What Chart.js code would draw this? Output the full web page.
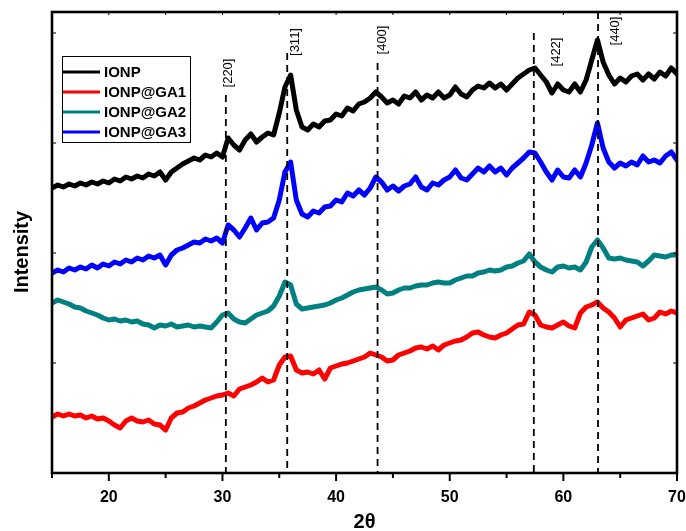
<!DOCTYPE html>
<html>
<head>
<meta charset="utf-8">
<script src="https://cdn.jsdelivr.net/npm/chart.js@4/dist/chart.umd.min.js"></script>
<style>
  html, body { margin: 0; padding: 0; background: #fff; }
  #wrap { width: 686px; height: 531px; position: relative; }
</style>
</head>
<body>
<div id="wrap"><canvas id="xrd"></canvas></div>
<script>
// 2-theta sampling (15 -> 70, step 0.5)
const twoTheta = Array.from({ length: 111 }, (_, i) => 15 + i * 0.5);

// intensities (a.u.)
const ionp = [285,288,286,289,287,290,288,291,289,292,290,294,292,296,294,297,295,299,297,301,
  293,301,305,309,312,315,313,318,316,320,316,335,328,323,333,339,331,336,340,338,
  360,386,398,363,346,343,349,346,352,353,359,357,365,362,369,371,375,381,376,370,
  373,369,377,375,381,373,378,375,381,375,378,386,379,376,383,387,385,390,385,389,
  383,389,395,399,403,405,398,391,380,389,383,381,389,381,393,413,433,411,398,389,
  395,391,397,399,393,399,394,401,397,405,399];
const ga1 = [56,59,57,59,57,58,55,57,54,55,52,48,45,52,55,52,51,53,49,48,
  43,55,60,61,65,67,70,73,75,77,78,80,77,84,86,88,91,95,91,93,
  108,116,117,103,100,101,99,103,94,105,107,109,110,112,114,116,120,118,116,112,
  113,118,120,122,125,126,124,127,123,128,130,132,133,136,140,141,138,136,135,138,
  140,144,148,149,161,158,148,146,145,148,151,147,145,160,166,168,171,165,161,155,
  146,153,155,157,159,153,155,161,159,162,160];
const ga2 = [170,173,171,169,166,165,162,160,158,155,153,154,152,153,151,152,149,148,145,148,
  147,149,146,147,148,146,147,146,145,151,158,160,154,151,150,154,158,160,162,167,
  177,191,188,169,164,165,166,167,168,170,173,175,178,181,183,184,185,186,183,179,
  180,183,185,185,187,188,188,190,191,190,190,193,195,197,197,200,201,203,202,203,
  206,207,210,212,219,211,206,203,201,206,207,205,206,203,211,226,233,225,215,214,
  215,213,212,211,207,212,218,217,216,218,218];
const ga3 = [200,203,201,205,203,206,204,208,205,209,207,211,209,213,211,215,213,217,215,218,
  208,218,223,225,228,231,230,234,232,235,230,248,243,236,245,255,243,250,251,255,
  273,301,311,273,259,256,262,260,266,267,273,271,280,277,283,278,285,296,291,283,
  287,282,287,289,296,286,283,290,288,293,296,303,295,293,299,305,301,307,301,305,
  298,305,310,315,321,320,311,301,293,303,296,295,303,296,310,328,350,325,311,305,
  310,307,311,308,317,311,313,310,317,321,313];

const xTicks = [20, 30, 40, 50, 60, 70];
const xMinor = [15, 25, 35, 45, 55, 65];
const yTicks = [110, 220, 330, 440];

// reflections
const peakNames = ['[220]', '[311]', '[400]', '[422]', '[440]'];
const peakPos = [30.3, 35.7, 43.65, 57.4, 63.05];
const peakTop = [378, 420, 410, 440, 461];
const labelX = [30.5, 36.45, 44.1, 59.35, 64.6];
const labelY = [400, 431, 433, 421, 442];

const FONT = '"Liberation Sans", Arial, sans-serif';
const pts = vals => vals.map((v, i) => ({ x: twoTheta[i], y: v }));

const decor = {
  id: 'decor',
  afterDatasetsDraw(chart) {
    const { ctx, chartArea: a, scales: { x, y } } = chart;
    ctx.save();

    // dashed reference lines
    ctx.strokeStyle = '#000';
    ctx.lineWidth = 1.8;
    ctx.setLineDash([7, 5]);
    peakPos.forEach((p, i) => {
      const px = x.getPixelForValue(p);
      ctx.beginPath();
      ctx.moveTo(px, y.getPixelForValue(peakTop[i]));
      ctx.lineTo(px, a.bottom);
      ctx.stroke();
    });
    ctx.setLineDash([]);

    // reflection labels
    ctx.fillStyle = '#000';
    ctx.font = '13px ' + FONT;
    ctx.textAlign = 'center';
    ctx.textBaseline = 'middle';
    peakNames.forEach((t, i) => {
      ctx.save();
      ctx.translate(x.getPixelForValue(labelX[i]), y.getPixelForValue(labelY[i]));
      ctx.rotate(-Math.PI / 2);
      ctx.fillText(t, 0, 0);
      ctx.restore();
    });

    // frame
    ctx.lineWidth = 2.6;
    ctx.strokeRect(a.left, a.top, a.right - a.left, a.bottom - a.top);

    // tick marks
    ctx.lineWidth = 2;
    xTicks.forEach(v => {
      const px = x.getPixelForValue(v);
      ctx.beginPath(); ctx.moveTo(px, a.bottom); ctx.lineTo(px, a.bottom + 8); ctx.stroke();
    });
    xMinor.forEach(v => {
      const px = x.getPixelForValue(v);
      ctx.beginPath(); ctx.moveTo(px, a.bottom); ctx.lineTo(px, a.bottom + 5); ctx.stroke();
    });
    ctx.lineWidth = 1;
    xTicks.concat(xMinor).forEach(v => {
      const px = x.getPixelForValue(v);
      ctx.beginPath(); ctx.moveTo(px, a.top); ctx.lineTo(px, a.top + 3); ctx.stroke();
    });
    yTicks.forEach(v => {
      const py = y.getPixelForValue(v);
      ctx.beginPath(); ctx.moveTo(a.left, py); ctx.lineTo(a.left + 4, py); ctx.stroke();
      ctx.beginPath(); ctx.moveTo(a.right, py); ctx.lineTo(a.right - 4, py); ctx.stroke();
    });

    // legend
    const lx = 62, ly = 56, lw = 128, lh = 86;
    ctx.fillStyle = '#fff';
    ctx.fillRect(lx, ly, lw, lh);
    ctx.lineWidth = 1;
    ctx.strokeStyle = '#000';
    ctx.strokeRect(lx + 0.5, ly + 0.5, lw, lh);
    ctx.font = 'bold 15px ' + FONT;
    ctx.textAlign = 'left';
    chart.data.datasets.forEach((ds, i) => {
      const ry = 72 + i * 20;
      ctx.strokeStyle = ds.borderColor;
      ctx.lineWidth = 3;
      ctx.beginPath(); ctx.moveTo(lx + 1, ry); ctx.lineTo(lx + 38, ry); ctx.stroke();
      ctx.fillStyle = '#000';
      ctx.fillText(ds.label, lx + 42, ry + 1);
    });

    // axis titles
    ctx.font = 'bold 20px ' + FONT;
    ctx.textAlign = 'center';
    ctx.fillText('2θ', (a.left + a.right) / 2, 522);
    ctx.save();
    ctx.translate(22, 252);
    ctx.rotate(-Math.PI / 2);
    ctx.fillText('Intensity', 0, 0);
    ctx.restore();

    ctx.restore();
  }
};

const lineDs = (label, vals, color) => ({
  label, data: pts(vals), borderColor: color, backgroundColor: color,
  borderWidth: 5, borderJoinStyle: 'round', borderCapStyle: 'round',
  pointRadius: 0, tension: 0, fill: false
});

new Chart(document.getElementById('xrd'), {
  type: 'line',
  data: {
    datasets: [
      lineDs('IONP', ionp, '#000000'),
      lineDs('IONP@GA1', ga1, '#ff0000'),
      lineDs('IONP@GA2', ga2, '#008080'),
      lineDs('IONP@GA3', ga3, '#0000ff')
    ]
  },
  options: {
    responsive: true,
    maintainAspectRatio: false,
    animation: false,
    devicePixelRatio: 1,
    layout: { padding: { top: 12, right: 9, left: 0, bottom: 0 } },
    plugins: { legend: { display: false }, tooltip: { enabled: false } },
    scales: {
      x: {
        type: 'linear', min: 15, max: 70,
        afterFit: s => { s.height = 58; s.paddingLeft = 0; s.paddingRight = 0; },
        afterBuildTicks: s => { s.ticks = xTicks.map(v => ({ value: v })); },
        grid: { display: false, drawTicks: false },
        border: { display: false },
        ticks: { color: '#000', font: { family: FONT, size: 16, weight: 'bold' }, padding: 15, maxRotation: 0 }
      },
      y: {
        min: 0, max: 461,
        afterFit: s => { s.width = 52; s.paddingTop = 0; s.paddingBottom = 0; },
        grid: { display: false, drawTicks: false },
        border: { display: false },
        ticks: { display: false }
      }
    }
  },
  plugins: [decor]
});
</script>
</body>
</html>
